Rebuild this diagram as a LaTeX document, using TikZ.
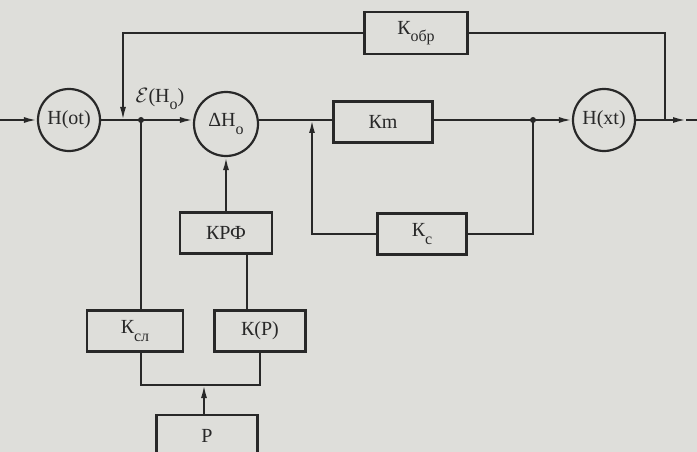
\documentclass[tikz,border=0pt]{standalone}
\usepackage{fontspec}
\setmainfont{Liberation Serif}
\usepackage{xcolor}
\usepackage{tikz}
\usetikzlibrary{arrows.meta, positioning}

\definecolor{paper}{RGB}{222,222,218}
\definecolor{ink}{RGB}{40,40,40}
\newcommand{\lidx}[1]{\raisebox{-0.8ex}{\fontsize{16}{18}\selectfont #1}}

\begin{document}
\begin{tikzpicture}[
    x=1pt, y=-1pt,
    every node/.style={align=center, font=\fontsize{20}{23}\selectfont, text=ink},
    blk/.style={draw=ink, line width=2.6pt, minimum width=92pt,
                minimum height=41pt, inner sep=2pt},
    summ/.style={draw=ink, circle, line width=2.2pt, minimum size=62pt, inner sep=0pt},
    wire/.style={draw=ink, line width=1.9pt},
    edge/.style={wire, -{Latex[length=13pt,width=6pt]}},
    dot/.style={circle, fill=ink, inner sep=0pt, minimum size=6pt}
]
\fill[paper] (0,0) rectangle (697,452);
\useasboundingbox (0,0) rectangle (697,452);

% main chain
\node[summ] (hot) at (69,120) {H(ot)};
\node[summ, minimum size=64pt] (dh) at (226,124) {ΔH\lidx{o}};
\node[blk, minimum width=99pt] (km) at (383,122) {Кm};
\node[summ] (hxt) at (604,120) {H(xt)};
\node[blk, minimum width=103pt, minimum height=42pt] (kobr) at (416,33) {К\lidx{обр}};
\node[blk, minimum width=89pt] (kc) at (422,234) {К\lidx{с}};
\node[blk] (krf) at (226,233) {КРФ};
\node[blk, minimum width=96pt] (ksl) at (135,331) {К\lidx{сл}};
\node[blk, minimum width=91pt] (kp) at (260,331) {К(Р)};
\node[blk, minimum width=101pt, minimum height=42pt] (p) at (207,436) {Р};

\node (eps) at (160,99) {$\mathcal{E}$(H\lidx{o})};

\coordinate (in) at (0,120);
\coordinate (out) at (686,120);
\coordinate (fbr) at (665,120);
\coordinate (fbl) at (123,120);
\coordinate (j1) at (141,120);
\coordinate (j2) at (533,120);
\coordinate (j3) at (312,120);
\coordinate (bus) at (204,385);

\draw[edge] (in) -- (hot);
\draw[edge] (hot) -- (dh.west |- hot);
\draw[wire] (dh.east |- hot) -- (km.west |- hot);
\draw[edge] (km.east |- hot) -- (hxt);
\draw[edge] (hxt) -- (out);
\draw[wire] (out) -- (697,120);

% outer feedback
\draw[wire] (fbr) |- (kobr);
\draw[edge] (kobr) -| (fbl);

% inner loop through Kc
\draw[wire] (j2) |- (kc);
\draw[edge] (kc) -| (j3);

% lower branch
\draw[wire] (j1) -- (j1 |- ksl.north);
\draw[edge] (krf) -- (dh);
\draw[wire] ([xshift=21pt]krf.south) -- ([xshift=21pt]krf.south |- kp.north);
\draw[wire] (j1 |- ksl.south) |- (bus) -| (kp.south);
\draw[edge] (p.north -| bus) -- (bus);

\node[dot] at (j1) {};
\node[dot] at (j2) {};
\end{tikzpicture}
\end{document}
